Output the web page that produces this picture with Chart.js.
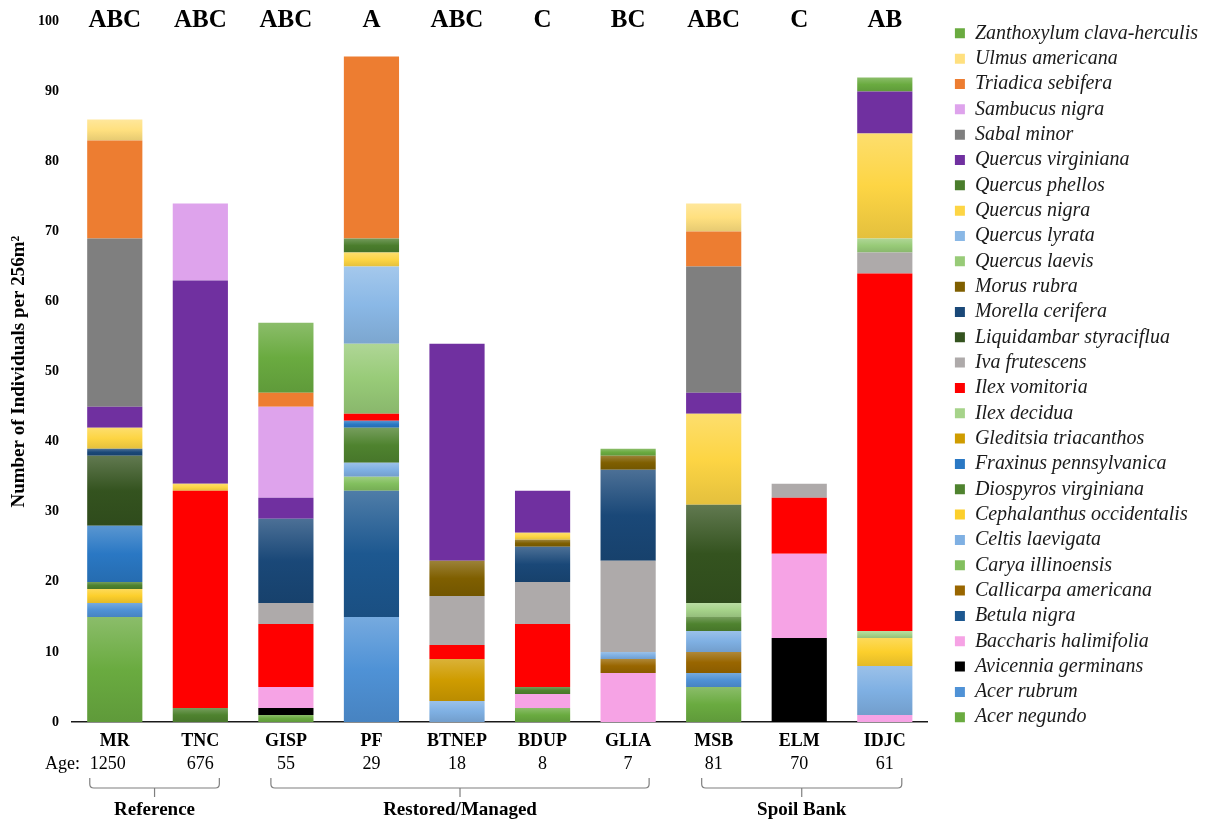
<!DOCTYPE html>
<html>
<head>
<meta charset="utf-8">
<title>Woody species by site</title>
<script src="https://cdn.jsdelivr.net/npm/chart.js@4.4.1/dist/chart.umd.min.js"></script>
<style>
  html, body { margin: 0; padding: 0; background: #fff; }
  #wrap { width: 1208px; height: 824px; }
</style>
</head>
<body>
<div id="wrap"><canvas id="chart"></canvas></div>
<script>
const SERIF = "'Liberation Serif', 'Times New Roman', serif";

// sites, left to right
const sites = ["MR", "TNC", "GISP", "PF", "BTNEP", "BDUP", "GLIA", "MSB", "ELM", "IDJC"];
const ages = ["1250", "676", "55", "29", "18", "8", "7", "81", "70", "61"];
const letters = ["ABC", "ABC", "ABC", "A", "ABC", "C", "BC", "ABC", "C", "AB"];

// site groups (first site index, last site index)
const groupNames = ["Reference", "Restored/Managed", "Spoil Bank"];
const groupSpans = [[0, 1], [2, 6], [7, 9]];

// individuals per 256 m2, one value per site
const acerNegundo    = [15, 0, 1, 0, 0, 2, 0, 5, 0, 0];
const acerRubrum     = [2, 0, 0, 15, 0, 0, 0, 2, 0, 0];
const avicennia      = [0, 0, 1, 0, 0, 0, 0, 0, 12, 0];
const baccharis      = [0, 0, 3, 0, 0, 2, 7, 0, 12, 1];
const betula         = [0, 0, 0, 18, 0, 0, 0, 0, 0, 0];
const callicarpa     = [0, 0, 0, 0, 0, 0, 2, 3, 0, 0];
const carya          = [0, 0, 0, 2, 0, 0, 0, 0, 0, 0];
const celtis         = [0, 0, 0, 2, 3, 0, 1, 3, 0, 7];
const cephalanthus   = [2, 0, 0, 0, 0, 0, 0, 0, 0, 4];
const diospyros      = [1, 2, 0, 5, 0, 1, 0, 2, 0, 0];
const fraxinus       = [8, 0, 0, 1, 0, 0, 0, 0, 0, 0];
const gleditsia      = [0, 0, 0, 0, 6, 0, 0, 0, 0, 0];
const ilexDecidua    = [0, 0, 0, 0, 0, 0, 0, 2, 0, 1];
const ilexVomitoria  = [0, 31, 9, 1, 2, 9, 0, 0, 8, 51];
const iva            = [0, 0, 3, 0, 7, 6, 13, 0, 2, 3];
const liquidambar    = [10, 0, 0, 0, 0, 0, 0, 14, 0, 0];
const morella        = [1, 0, 12, 0, 0, 5, 13, 0, 0, 0];
const morus          = [0, 0, 0, 0, 5, 1, 2, 0, 0, 0];
const quercusLaevis  = [0, 0, 0, 10, 0, 0, 0, 0, 0, 2];
const quercusLyrata  = [0, 0, 0, 11, 0, 0, 0, 0, 0, 0];
const quercusNigra   = [3, 1, 0, 2, 0, 1, 0, 13, 0, 15];
const quercusPhellos = [0, 0, 0, 2, 0, 0, 0, 0, 0, 0];
const quercusVirg    = [3, 29, 3, 0, 31, 6, 0, 3, 0, 6];
const sabal          = [24, 0, 0, 0, 0, 0, 0, 18, 0, 0];
const sambucus       = [0, 11, 13, 0, 0, 0, 0, 0, 0, 0];
const triadica       = [14, 0, 2, 26, 0, 0, 0, 5, 0, 0];
const ulmus          = [3, 0, 0, 0, 0, 0, 0, 4, 0, 0];
const zanthoxylum    = [0, 0, 10, 0, 0, 0, 1, 0, 0, 2];

// stacking order, bottom to top: [name, values, colour, shaded]
const species = [
  ["Acer negundo", acerNegundo, "#6aab40", true],
  ["Acer rubrum", acerRubrum, "#4f92d6", true],
  ["Avicennia germinans", avicennia, "#000000", false],
  ["Baccharis halimifolia", baccharis, "#f6a3e5", false],
  ["Betula nigra", betula, "#1d5890", true],
  ["Callicarpa americana", callicarpa, "#996600", true],
  ["Carya illinoensis", carya, "#82bf5e", true],
  ["Celtis laevigata", celtis, "#7fb0e3", true],
  ["Cephalanthus occidentalis", cephalanthus, "#fccf2c", true],
  ["Diospyros virginiana", diospyros, "#4f832f", true],
  ["Fraxinus pennsylvanica", fraxinus, "#2a78c4", true],
  ["Gleditsia triacanthos", gleditsia, "#cf9c00", true],
  ["Ilex decidua", ilexDecidua, "#a6d38a", true],
  ["Ilex vomitoria", ilexVomitoria, "#ff0000", false],
  ["Iva frutescens", iva, "#aeaaaa", false],
  ["Liquidambar styraciflua", liquidambar, "#34531f", true],
  ["Morella cerifera", morella, "#1a4878", true],
  ["Morus rubra", morus, "#7f5f00", true],
  ["Quercus laevis", quercusLaevis, "#98cb78", true],
  ["Quercus lyrata", quercusLyrata, "#8ab8e6", true],
  ["Quercus nigra", quercusNigra, "#fdd544", true],
  ["Quercus phellos", quercusPhellos, "#4a7d2c", true],
  ["Quercus virginiana", quercusVirg, "#7030a0", false],
  ["Sabal minor", sabal, "#7f7f7f", false],
  ["Sambucus nigra", sambucus, "#dea3ec", false],
  ["Triadica sebifera", triadica, "#ed7d31", false],
  ["Ulmus americana", ulmus, "#ffe07f", true],
  ["Zanthoxylum clava-herculis", zanthoxylum, "#6aab40", true]
];

// shift a hex colour toward white (amt > 0) or black (amt < 0)
function shade(hex, amt) {
  const n = parseInt(hex.slice(1), 16);
  const ch = [(n >> 16) & 255, (n >> 8) & 255, n & 255].map(v =>
    Math.round(amt >= 0 ? v + (255 - v) * amt : v * (1 + amt)));
  return `rgb(${ch[0]}, ${ch[1]}, ${ch[2]})`;
}

// vertical gradient per segment, lighter at the top
function segmentFill(c) {
  const ds = c.dataset;
  const yScale = c.chart.scales.y;
  if (c.type !== "data" || !ds.shaded || !yScale) return ds.color;
  let base = 0;
  for (let k = 0; k < c.datasetIndex; k++) base += c.chart.data.datasets[k].data[c.dataIndex];
  const top = yScale.getPixelForValue(base + c.raw);
  const bottom = yScale.getPixelForValue(base);
  if (!isFinite(top) || !isFinite(bottom) || bottom - top < 1) return ds.color;
  const g = c.chart.ctx.createLinearGradient(0, top, 0, bottom);
  g.addColorStop(0, shade(ds.color, 0.22));
  g.addColorStop(0.5, ds.color);
  g.addColorStop(1, shade(ds.color, -0.1));
  return g;
}

const datasets = species.map(([name, values, color, shaded]) => ({
  label: name,
  data: values,
  color: color,
  shaded: shaded,
  backgroundColor: segmentFill,
  borderWidth: 0
}));

// legend swatches use the flat series colour
function legendLabels(chart) {
  return Chart.defaults.plugins.legend.labels.generateLabels(chart).map(item => ({
    ...item,
    fillStyle: chart.data.datasets[item.datasetIndex].color,
    lineWidth: 0
  }));
}

// leaves a gap between the plot and the legend
const LEGEND_GAP = 22;
const legendGap = {
  id: "legendGap",
  beforeInit(chart) {
    const lg = chart.legend;
    const fit = lg.fit;
    lg.fit = function () { fit.call(this); this.width += LEGEND_GAP; };
  },
  afterLayout(chart) {
    chart.legend.left += LEGEND_GAP;
    chart.legend.right += LEGEND_GAP;
  }
};

// significance letters, ages and site-group brackets
const annotations = {
  id: "annotations",
  afterDraw(chart) {
    const ctx = chart.ctx;
    const x = chart.scales.x;
    const area = chart.chartArea;
    ctx.save();
    ctx.fillStyle = "#000";
    ctx.textAlign = "center";
    ctx.textBaseline = "middle";

    ctx.font = `bold 25px ${SERIF}`;
    letters.forEach((t, i) => ctx.fillText(t, x.getPixelForValue(i), area.top - 1));

    ctx.font = `18px ${SERIF}`;
    ages.forEach((t, i) => ctx.fillText(t, x.getPixelForValue(i) - (i === 0 ? 7 : 0), 764));
    ctx.textAlign = "left";
    ctx.fillText("Age:", 45, 764);

    const pads = [[25, 19], [15, 21], [12, 17]];
    ctx.strokeStyle = "#7f7f7f";
    ctx.lineWidth = 1.2;
    ctx.textAlign = "center";
    ctx.font = `bold 19px ${SERIF}`;
    groupSpans.forEach(([a, b], g) => {
      const left = x.getPixelForValue(a) - pads[g][0];
      const right = x.getPixelForValue(b) + pads[g][1];
      const mid = (left + right) / 2;
      const top = 778, bar = 788, r = 4;
      ctx.beginPath();
      ctx.moveTo(left, top);
      ctx.lineTo(left, bar - r);
      ctx.quadraticCurveTo(left, bar, left + r, bar);
      ctx.lineTo(right - r, bar);
      ctx.quadraticCurveTo(right, bar, right, bar - r);
      ctx.lineTo(right, top);
      ctx.moveTo(mid, bar);
      ctx.lineTo(mid, 797);
      ctx.stroke();
      ctx.fillText(groupNames[g], mid, 810);
    });
    ctx.restore();
  }
};

new Chart(document.getElementById("chart"), {
  type: "bar",
  data: { labels: sites, datasets: datasets },
  options: {
    responsive: true,
    maintainAspectRatio: false,
    animation: false,
    layout: { padding: { top: 18, left: 0, right: 0, bottom: 0 } },
    datasets: { bar: { categoryPercentage: 1, barPercentage: 0.645 } },
    scales: {
      x: {
        stacked: true,
        grid: { display: false, drawTicks: false },
        border: { display: true, color: "#1a1a1a", width: 1.5 },
        ticks: { color: "#000", padding: 9, font: { family: SERIF, size: 18, weight: "bold" } },
        afterFit(scale) { scale.height = 102; }
      },
      y: {
        stacked: true,
        min: 0,
        max: 100,
        grid: { display: false, drawTicks: false },
        border: { display: false },
        ticks: { stepSize: 10, color: "#000", padding: 13, font: { family: SERIF, size: 14, weight: "bold" } },
        title: {
          display: true,
          text: "Number of Individuals per 256m²",
          color: "#000",
          padding: { top: 8, bottom: 0 },
          font: { family: SERIF, size: 19, weight: "bold" }
        },
        afterFit(scale) { scale.width = 72; }
      }
    },
    plugins: {
      legend: {
        position: "right",
        align: "start",
        reverse: true,
        labels: {
          boxWidth: 10,
          boxHeight: 10,
          padding: 5.33,
          color: "#1a1a1a",
          font: { family: SERIF, size: 20, style: "italic" },
          generateLabels: legendLabels
        }
      },
      tooltip: { enabled: false }
    }
  },
  plugins: [legendGap, annotations]
});
</script>
</body>
</html>
